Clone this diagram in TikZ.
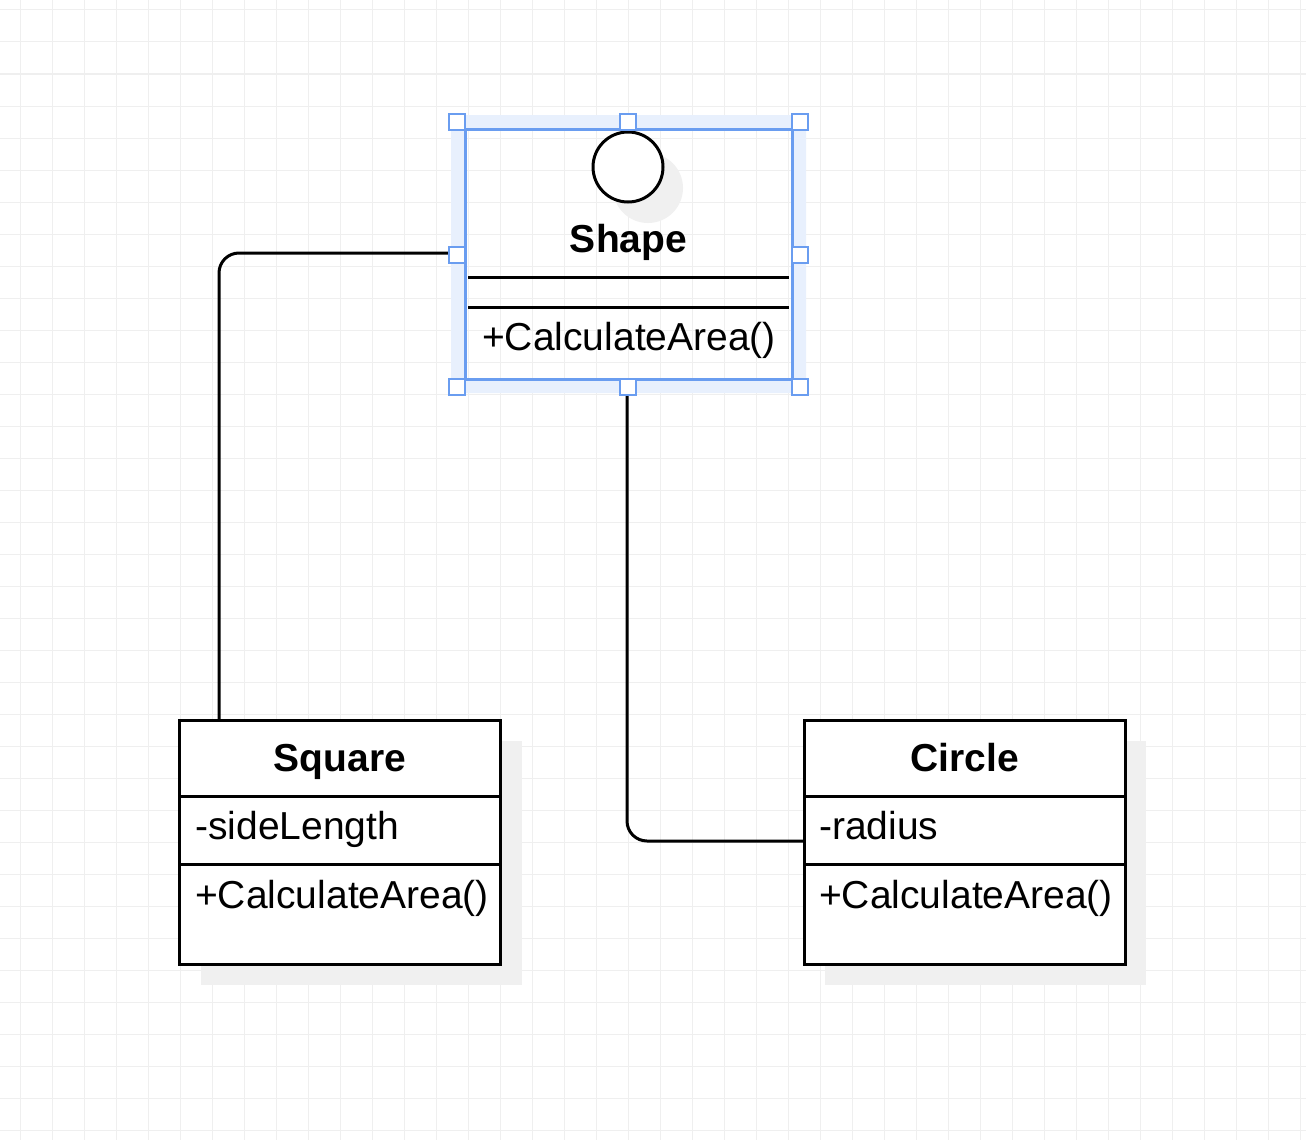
\documentclass[tikz,border=0pt]{standalone}
\usepackage{fontspec}
\setmainfont{Liberation Sans}
\definecolor{gridc}{HTML}{EFEFEF}
\definecolor{selblue}{HTML}{6A9DF0}
\definecolor{selband}{HTML}{E8F0FD}
\definecolor{shadowc}{HTML}{F0F0F0}
\begin{document}
\begin{tikzpicture}[x=1pt,y=-1pt,
  gridl/.style={draw=gridc, line width=1pt},
  umlbox/.style={draw=black, fill=white, line width=3pt, inner sep=0pt, outer sep=0pt,
    minimum width=321pt, minimum height=244pt},
  divl/.style={draw=black, line width=3pt},
  conn/.style={draw=black, line width=3pt, rounded corners=20pt},
  txt/.style={font=\fontsize{39}{47}\selectfont, inner sep=0pt},
  ttl/.style={font=\fontsize{39}{47}\selectfont\bfseries, inner sep=0pt},
  selbox/.style={draw=selblue, line width=3pt, inner sep=0pt, outer sep=0pt,
    minimum width=327pt, minimum height=250pt},
  handle/.style={draw=selblue, fill=white, line width=2.5pt, inner sep=0pt,
    minimum size=16pt},
  icon/.style={circle, draw=black, fill=white, line width=3pt, inner sep=0pt,
    outer sep=0pt, minimum size=70pt}
]
\useasboundingbox (0,0) rectangle (1306,1140);
\fill[white] (0,0) rectangle (1306,1140);
% grid
\foreach \x in {20,52,...,1300} \draw[gridl] (\x,0) -- (\x,1140);
\foreach \y in {10,42,...,1130} \draw[gridl] (0,\y) -- (1306,\y);

% selection band around Shape
\fill[selband, even odd rule] (451,115) rectangle (806,393) (465,129) rectangle (792,379);

% Square and Circle classes
\node[umlbox] (sqp) at (340,842) {};
\node[umlbox] (cip) at (964.5,842) {};
\fill[shadowc] ([shift={(21,21)}]sqp.north west) rectangle ([shift={(21,21)}]sqp.south east);
\fill[shadowc] ([shift={(21,21)}]cip.north west) rectangle ([shift={(21,21)}]cip.south east);
\node[umlbox] (sq) at (340,842) {};
\node[umlbox] (ci) at (964.5,842) {};
\draw[divl] ([shift={(0,76)}]sq.north west) -- ([shift={(0,76)}]sq.north east);
\draw[divl] ([shift={(0,144)}]sq.north west) -- ([shift={(0,144)}]sq.north east);
\draw[divl] ([shift={(0,76)}]ci.north west) -- ([shift={(0,76)}]ci.north east);
\draw[divl] ([shift={(0,144)}]ci.north west) -- ([shift={(0,144)}]ci.north east);

\node[ttl, anchor=base] (sqname) at (340,771) {Square};
\node[txt, anchor=base west] (sqattr) at (195,839) {-sideLength};
\node[txt, anchor=base west] (sqop) at (195,908) {+CalculateArea()};
\node[ttl, anchor=base] (ciname) at (964.5,771) {Circle};
\node[txt, anchor=base west] (ciattr) at (819,839) {-radius};
\node[txt, anchor=base west] (ciop) at (819,908) {+CalculateArea()};

% Shape class
\node[selbox] (sh) at (628.5,254) {};
\fill[shadowc] (648,188) circle[radius=35pt];
\node[icon] (ico) at (628,167) {};
\node[ttl, anchor=base] (shname) at (628.5,252) {Shape};
\draw[divl] ([shift={(3,148)}]sh.north west) -- ([shift={(-3,148)}]sh.north east);
\draw[divl] ([shift={(3,178)}]sh.north west) -- ([shift={(-3,178)}]sh.north east);
\node[txt, anchor=base west] (shop) at (482,350) {+CalculateArea()};

% connectors
\draw[conn] ([shift={(39.5,0)}]sq.north west) |- ([yshift=1pt]sh.west);
\draw[conn] ([xshift=-1.5pt]sh.south) |- ([yshift=1pt]ci.west);

% selection border and handles
\draw[draw=selblue, line width=3pt] (sh.north west) rectangle (sh.south east);
\node[handle] (h1) at (457,122) {};
\node[handle] (h2) at (628,122) {};
\node[handle] (h3) at (800,122) {};
\node[handle] (h4) at (457,255) {};
\node[handle] (h5) at (800,255) {};
\node[handle] (h6) at (457,387) {};
\node[handle] (h7) at (628,387) {};
\node[handle] (h8) at (800,387) {};
\end{tikzpicture}
\end{document}
